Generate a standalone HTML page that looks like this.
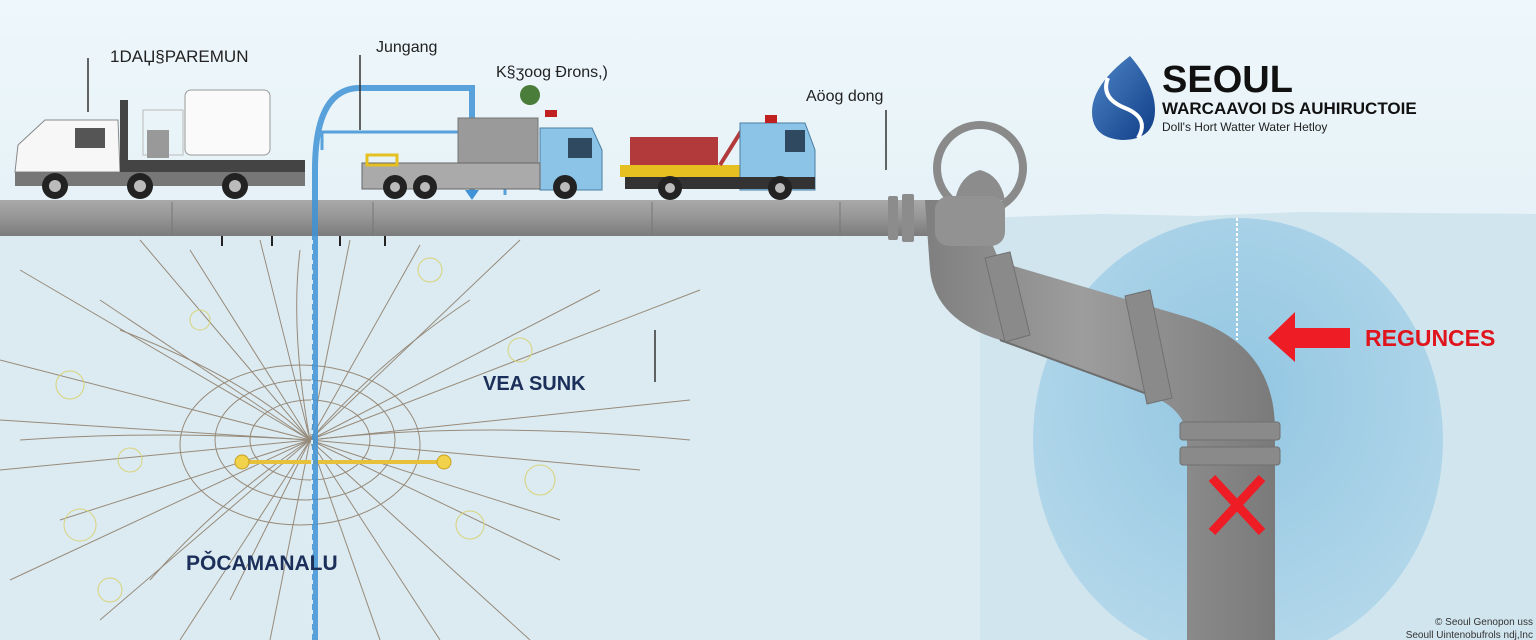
<!DOCTYPE html>
<html><head><meta charset="utf-8"><style>
html,body{margin:0;padding:0;width:1536px;height:640px;overflow:hidden;background:#eaf4f8}
svg{display:block}
text{font-family:"Liberation Sans",sans-serif}
</style></head><body>
<svg width="1536" height="640" viewBox="0 0 1536 640" xmlns="http://www.w3.org/2000/svg">
<defs>
<linearGradient id="bg" x1="0" y1="0" x2="0" y2="1"><stop offset="0" stop-color="#eef7fb"/><stop offset="1" stop-color="#d5e7ef"/></linearGradient>
<linearGradient id="pipeH" x1="0" y1="0" x2="0" y2="1"><stop offset="0" stop-color="#a9a9a9"/><stop offset="0.5" stop-color="#959595"/><stop offset="1" stop-color="#7b7b7b"/></linearGradient>
<linearGradient id="pipeV" x1="0" y1="0" x2="1" y2="0"><stop offset="0" stop-color="#7f7f7f"/><stop offset="0.45" stop-color="#9d9d9d"/><stop offset="1" stop-color="#7a7a7a"/></linearGradient>
<radialGradient id="circ" cx="0.5" cy="0.4" r="0.6"><stop offset="0" stop-color="#92c6e2"/><stop offset="1" stop-color="#b3d7ea"/></radialGradient>
<linearGradient id="drop" x1="0" y1="0" x2="1" y2="1"><stop offset="0" stop-color="#4f86c8"/><stop offset="1" stop-color="#0f3d86"/></linearGradient>
</defs>
<rect width="1536" height="640" fill="url(#bg)"/>
<rect x="0" y="236" width="1000" height="404" fill="#dcebf1"/>
<path d="M980 218 L1100 214 L1200 216 L1300 212 L1536 214 L1536 640 L980 640 Z" fill="#d1e5ee"/>
<ellipse cx="1238" cy="440" rx="205" ry="222" fill="url(#circ)"/>
<line x1="1237" y1="218" x2="1237" y2="340" stroke="#fff" stroke-width="2" stroke-dasharray="3 2"/>

<!-- roots -->
<g stroke="#8b7a66" stroke-width="1" fill="none" opacity="0.85">
<path d="M310 440 L20 270"/><path d="M310 440 L100 300"/><path d="M310 440 L140 240"/><path d="M310 440 L190 250"/><path d="M310 440 L260 240"/>
<path d="M310 440 L350 240"/><path d="M310 440 L420 245"/><path d="M310 440 L520 240"/><path d="M310 440 L600 290"/><path d="M310 440 L700 290"/>
<path d="M310 440 L690 400"/><path d="M310 440 L640 470"/><path d="M310 440 L560 560"/><path d="M310 440 L530 640"/><path d="M310 440 L440 640"/>
<path d="M310 440 L380 640"/><path d="M310 440 L270 640"/><path d="M310 440 L180 640"/><path d="M310 440 L100 620"/><path d="M310 440 L10 580"/>
<path d="M310 440 L0 470"/><path d="M310 440 L0 420"/><path d="M310 440 L0 360"/><path d="M310 440 L60 520"/><path d="M310 440 L230 600"/>
<path d="M310 440 Q250 380 120 330"/><path d="M310 440 Q380 360 470 300"/><path d="M310 440 Q400 470 560 520"/><path d="M310 440 Q220 500 150 580"/>
<path d="M310 440 Q290 330 300 250"/><path d="M310 440 Q480 420 690 440"/><path d="M310 440 Q160 430 20 440"/>
<ellipse cx="305" cy="440" rx="90" ry="60"/><ellipse cx="310" cy="440" rx="60" ry="40"/><ellipse cx="300" cy="445" rx="120" ry="80"/>
</g>
<g stroke="#d8d37a" stroke-width="1" fill="none">
<circle cx="70" cy="385" r="14"/><circle cx="80" cy="525" r="16"/><circle cx="540" cy="480" r="15"/><circle cx="470" cy="525" r="14"/>
<circle cx="520" cy="350" r="12"/><circle cx="430" cy="270" r="12"/><circle cx="130" cy="460" r="12"/><circle cx="200" cy="320" r="10"/><circle cx="110" cy="590" r="12"/>
</g>
<line x1="242" y1="462" x2="444" y2="462" stroke="#e8c13a" stroke-width="4"/>
<circle cx="242" cy="462" r="7" fill="#f2d24a" stroke="#c9a020"/><circle cx="444" cy="462" r="7" fill="#f2d24a" stroke="#c9a020"/>

<!-- horizontal pipe -->
<rect x="0" y="200" width="940" height="36" fill="url(#pipeH)"/>
<g stroke="#777" stroke-width="1"><line x1="172" y1="202" x2="172" y2="236"/><line x1="373" y1="202" x2="373" y2="236"/><line x1="652" y1="202" x2="652" y2="236"/><line x1="840" y1="202" x2="840" y2="236"/></g>
<g stroke="#222" stroke-width="2"><line x1="222" y1="236" x2="222" y2="246"/><line x1="272" y1="236" x2="272" y2="246"/><line x1="340" y1="236" x2="340" y2="246"/><line x1="385" y1="236" x2="385" y2="246"/></g>
<rect x="888" y="196" width="10" height="44" rx="2" fill="#8c8c8c"/><rect x="902" y="194" width="12" height="48" rx="2" fill="#8c8c8c"/>

<!-- elbow pipe -->
<path d="M925 200 L975 200 Q990 240 1000 262 L1190 318 Q1275 345 1275 430 L1275 640 L1187 640 L1187 440 Q1187 410 1150 395 L1000 340 Q935 320 930 270 Z" fill="url(#pipeV)"/>
<path d="M1000 340 L1150 395" stroke="#6e6e6e" stroke-width="2" fill="none"/>
<g fill="#8a8a8a" stroke="#707070"><path d="M985 258 L1010 252 L1030 335 L1005 342 Z"/><path d="M1125 296 L1150 290 L1172 398 L1147 404 Z"/>
<rect x="1180" y="422" width="100" height="18" rx="3"/><rect x="1180" y="447" width="100" height="18" rx="3"/></g>
<!-- valve -->
<circle cx="980" cy="168" r="43" fill="none" stroke="#8a8a8a" stroke-width="8"/>
<path d="M955 200 Q960 175 980 170 Q1000 175 1005 200 Z" fill="#8c8c8c"/>
<rect x="935" y="196" width="70" height="50" rx="14" fill="#929292"/>

<g stroke="#ee1c24" stroke-width="9"><line x1="1212" y1="478" x2="1262" y2="532"/><line x1="1262" y1="478" x2="1212" y2="532"/></g>
<path d="M1268 338 L1295 312 L1295 328 L1350 328 L1350 348 L1295 348 L1295 362 Z" fill="#ee1c24"/>
<text x="1365" y="346" font-size="23" font-weight="bold" fill="#e0141c">REGUNCES</text>

<g fill="none" stroke="#3f93d6" stroke-width="6" opacity="0.85">
<path d="M315 640 L315 170 Q315 88 360 88 L472 88 L472 195"/>
<path d="M322 150 L322 132 L505 132 L505 195" stroke-width="3"/>
</g>
<path d="M465 190 L479 190 L472 200 Z" fill="#3f93d6"/>
<line x1="312" y1="240" x2="312" y2="640" stroke="#d9eefa" stroke-width="2" stroke-dasharray="4 6"/>

<!-- truck 1 -->
<g>
<rect x="185" y="90" width="85" height="65" rx="6" fill="#fafafa" stroke="#999"/>
<rect x="143" y="110" width="40" height="45" fill="none" stroke="#bbb"/>
<rect x="147" y="130" width="22" height="28" fill="#999"/>
<path d="M15 172 L18 145 L45 120 L118 120 L120 172 Z" fill="#f7f7f7" stroke="#888"/>
<rect x="75" y="128" width="30" height="20" fill="#555"/>
<rect x="120" y="100" width="8" height="70" fill="#444"/>
<rect x="120" y="160" width="185" height="12" fill="#444"/>
<rect x="15" y="172" width="290" height="14" fill="#777"/>
<g fill="#222"><circle cx="55" cy="186" r="13"/><circle cx="140" cy="186" r="13"/><circle cx="235" cy="186" r="13"/></g>
<g fill="#bbb"><circle cx="55" cy="186" r="6"/><circle cx="140" cy="186" r="6"/><circle cx="235" cy="186" r="6"/></g>
</g>
<!-- truck 2 -->
<g>
<rect x="458" y="118" width="80" height="48" fill="#9a9a9a" stroke="#777"/>
<circle cx="530" cy="95" r="10" fill="#4a7c3a"/>
<rect x="545" y="110" width="12" height="7" fill="#c02020"/>
<path d="M540 172 L540 128 L592 128 L602 150 L602 190 L540 190 Z" fill="#8cc4e8" stroke="#4a7ea0"/>
<rect x="568" y="138" width="24" height="20" fill="#2f4a60"/>
<rect x="362" y="163" width="178" height="26" fill="#aaa" stroke="#666"/>
<rect x="367" y="155" width="30" height="10" fill="none" stroke="#e5c020" stroke-width="3"/>
<g fill="#222"><circle cx="395" cy="187" r="12"/><circle cx="425" cy="187" r="12"/><circle cx="565" cy="187" r="12"/></g>
<g fill="#bbb"><circle cx="395" cy="187" r="5"/><circle cx="425" cy="187" r="5"/><circle cx="565" cy="187" r="5"/></g>
</g>
<!-- truck 3 -->
<g>
<rect x="630" y="137" width="88" height="28" fill="#b23a3a"/>
<rect x="620" y="165" width="120" height="12" fill="#e5c020"/>
<line x1="720" y1="165" x2="745" y2="125" stroke="#b23a3a" stroke-width="4"/>
<path d="M740 190 L740 123 L805 123 L815 150 L815 190 Z" fill="#8cc4e8" stroke="#4a7ea0"/>
<rect x="785" y="130" width="20" height="22" fill="#2f4a60"/>
<rect x="765" y="115" width="12" height="8" fill="#c02020"/>
<rect x="625" y="177" width="190" height="12" fill="#333"/>
<g fill="#222"><circle cx="670" cy="188" r="12"/><circle cx="780" cy="188" r="12"/></g>
<g fill="#bbb"><circle cx="670" cy="188" r="5"/><circle cx="780" cy="188" r="5"/></g>
</g>

<g stroke="#333" stroke-width="1.5">
<line x1="88" y1="58" x2="88" y2="112"/><line x1="360" y1="55" x2="360" y2="130"/>
<line x1="886" y1="110" x2="886" y2="170"/><line x1="655" y1="330" x2="655" y2="382"/>
</g>
<text x="110" y="62" font-size="17" fill="#222">1DAЏ§PAREMUN</text>
<text x="376" y="52" font-size="16" fill="#222">Jungang</text>
<text x="496" y="77" font-size="16" fill="#222">K§ʒoog Đrons,)</text>
<text x="806" y="101" font-size="16" fill="#222">Aöog dong</text>
<text x="483" y="390" font-size="20" font-weight="bold" fill="#1b2f5a">VEA SUNK</text>
<text x="186" y="570" font-size="21" font-weight="bold" fill="#1b2f5a">PǑCAMANALU</text>

<path d="M1130 56 Q1092 85 1092 112 Q1092 138 1122 140 Q1155 140 1155 110 Q1155 85 1130 56 Z" fill="url(#drop)"/>
<path d="M1108 78 Q1100 98 1125 108 Q1150 118 1138 138" fill="none" stroke="#fff" stroke-width="4"/>
<text x="1162" y="92" font-size="38" font-weight="bold" fill="#111">SEOUL</text>
<text x="1162" y="114" font-size="17" font-weight="bold" fill="#111">WARCAAVOI DS AUHIRUCTOIE</text>
<text x="1162" y="131" font-size="12" fill="#222">Doll's Hort Watter Water Hetloy</text>
<text x="1533" y="625" font-size="10" fill="#333" text-anchor="end">© Seoul Genopon uss</text>
<text x="1533" y="638" font-size="10" fill="#333" text-anchor="end">Seoull Uintenobufrols ndj,Inc</text>
</svg>
</body></html>
